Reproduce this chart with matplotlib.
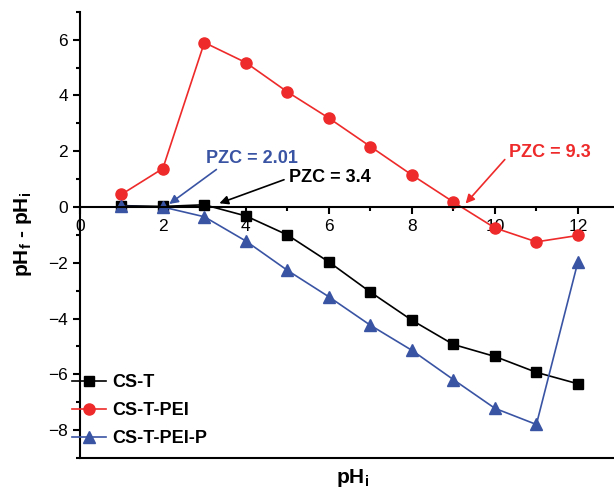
import matplotlib.pyplot as plt
from matplotlib.ticker import MultipleLocator

plt.rcParams['font.family'] = ['Liberation Sans', 'DejaVu Sans']

# data
ph_i = [1, 2, 3, 4, 5, 6, 7, 8, 9, 10, 11, 12]
cs_t = [0.05, 0.02, 0.08, -0.32, -1.0, -1.97, -3.05, -4.06, -4.93, -5.36, -5.93, -6.34]
cs_t_pei = [0.45, 1.38, 5.9, 5.18, 4.13, 3.19, 2.17, 1.15, 0.18, -0.75, -1.25, -1.02]
cs_t_pei_p = [0.02, 0.0, -0.35, -1.22, -2.27, -3.22, -4.24, -5.14, -6.19, -7.22, -7.8, -1.97]

fig = plt.figure(figsize=(6.14, 4.94), dpi=100)
ax = fig.add_axes([0.130, 0.073, 0.87, 0.903])

ax.plot(ph_i, cs_t, color='black', marker='s', markersize=7, lw=1.2, label='CS-T')
ax.plot(ph_i, cs_t_pei, color='#ee2a2a', marker='o', markersize=8, lw=1.2, label='CS-T-PEI')
ax.plot(ph_i, cs_t_pei_p, color='#3a54a4', marker='^', markersize=8, lw=1.2, label='CS-T-PEI-P')

ax.set_xlim(0, 12.87)
ax.set_ylim(-9, 7)

# x axis drawn through y = 0, plain frame line at the bottom
ax.spines['bottom'].set_position(('data', 0))
ax.spines['top'].set_position(('axes', 0))
ax.spines['right'].set_visible(False)
for s in ['bottom', 'top', 'left']:
    ax.spines[s].set_linewidth(1.5)

ax.xaxis.set_major_locator(MultipleLocator(2))
ax.xaxis.set_minor_locator(MultipleLocator(1))
ax.yaxis.set_major_locator(MultipleLocator(2))
ax.yaxis.set_minor_locator(MultipleLocator(1))
ax.tick_params(which='major', length=5, width=1.5, labelsize=12.5)
ax.tick_params(which='minor', length=3, width=1.5)
ax.tick_params(axis='x', top=False, direction='out')

ax.text(0.51, -0.045, r'pH$_\mathregular{i}$', transform=ax.transAxes, ha='center', va='center',
        fontsize=15, fontweight='bold')
ax.set_ylabel(r'pH$_\mathregular{f}$ - pH$_\mathregular{i}$', fontsize=15, fontweight='bold')
ax.yaxis.set_label_coords(-0.085, 0.5)

ax.annotate('PZC = 2.01', xy=(2.1, 0.05), xytext=(3.05, 1.75), color='#3a54a4',
            fontsize=13, fontweight='bold', ha='left', va='center',
            arrowprops=dict(arrowstyle='-|>', color='#3a54a4', lw=1.2, shrinkA=0,
                            relpos=(0.15, 0.0)))
ax.annotate('PZC = 3.4', xy=(3.3, 0.1), xytext=(5.05, 1.05), color='black',
            fontsize=13, fontweight='bold', ha='left', va='center',
            arrowprops=dict(arrowstyle='-|>', color='black', lw=1.2, shrinkA=2,
                            relpos=(0.0, 0.5)))
ax.annotate('PZC = 9.3', xy=(9.25, 0.05), xytext=(10.35, 1.95), color='#ee2a2a',
            fontsize=13, fontweight='bold', ha='left', va='center',
            arrowprops=dict(arrowstyle='-|>', color='#ee2a2a', lw=1.2, shrinkA=2,
                            relpos=(0.0, 0.4)))

leg = ax.legend(loc='lower left', bbox_to_anchor=(-0.045, -0.012), frameon=False,
                prop={'weight': 'bold', 'size': 13}, handlelength=1.9,
                handletextpad=0.3, labelspacing=0.6)

fig.savefig('out.png', dpi=100)
